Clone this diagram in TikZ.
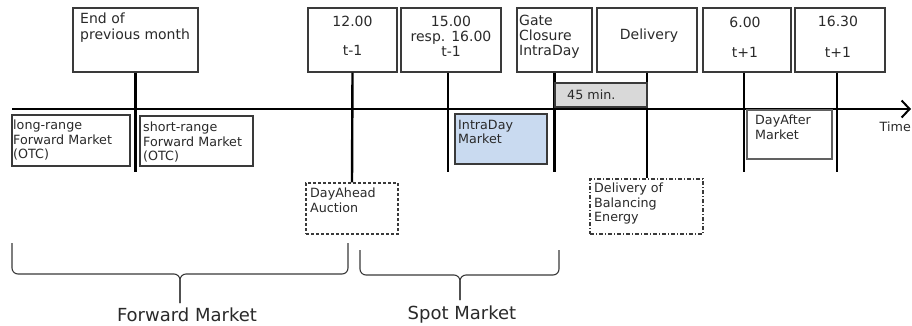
\documentclass[tikz,border=0pt]{standalone}
\usepackage{fontspec}
\setmainfont{DejaVu Sans}
\usetikzlibrary{arrows.meta}
\definecolor{textc}{HTML}{2A2A2A}
\definecolor{boxc}{HTML}{3A3A3A}
\definecolor{grayfill}{HTML}{D9D9D9}
\definecolor{bluefill}{HTML}{C9DAF0}
\tikzset{
  box/.style={draw=boxc, line width=1.1pt, rectangle, inner sep=0pt, fill=white},
  vline/.style={line width=2.4pt, black},
  timeline/.style={line width=2.6pt, black, -{Straight Barb[length=8pt,width=17pt,line width=2pt]}},
  toptxt/.style={font=\fontsize{14}{15.2}\selectfont, text=textc, inner sep=0pt},
  lowtxt/.style={font=\fontsize{12.7}{14.5}\selectfont, text=textc, inner sep=0pt, align=left},
  bigtxt/.style={font=\fontsize{18}{20}\selectfont, text=textc, inner sep=0pt},
  bracestyle/.style={draw=boxc, line width=1.1pt, rounded corners=6pt},
}
\begin{document}
\begin{tikzpicture}[x=1pt,y=-1pt]
\clip (0,0) rectangle (912,325);
\fill[white] (0,0) rectangle (912,325);

% timeline
\coordinate (tl0) at (12,109);
\coordinate (tl1) at (911,109);
\coordinate (bot) at (0,172);

% top boxes
\node[box, minimum width=125pt, minimum height=64pt] (endm) at (135.5,40) {};
\node[box, minimum width=89pt, minimum height=64pt] (b12) at (352.5,40) {};
\node[box, minimum width=100pt, minimum height=64pt] (b15) at (451,40) {};
\node[box, minimum width=75pt, minimum height=64pt] (gate) at (554.5,40) {};
\node[box, minimum width=100pt, minimum height=64pt] (deliv) at (647,40) {};
\node[box, minimum width=88pt, minimum height=64pt] (b6) at (747,40) {};
\node[box, minimum width=90pt, minimum height=64pt] (b16) at (840,40) {};

% lower boxes
\node[box, minimum width=92pt, minimum height=51pt, dash pattern=on 3pt off 2pt] (dayahead) at (352,208.5) {};
\node[box, minimum width=113pt, minimum height=55pt, dash pattern=on 4pt off 2pt on 1pt off 2pt] (balancing) at (646.5,206.5) {};

% vertical lines
\draw[vline] (endm.south) -- (endm.south |- bot);
\draw[vline] (b12.south) -- (dayahead.north);
\draw[vline] ([xshift=-3pt]b15.south) -- ([xshift=-3pt]b15.south |- bot);
\draw[vline] (gate.south) -- (gate.south |- bot);
\draw[vline] (deliv.south) -- (balancing.north -| deliv.south);
\draw[vline] ([xshift=-3pt]b6.south) -- ([xshift=-3pt]b6.south |- bot);
\draw[vline] ([xshift=-3pt]b16.south) -- ([xshift=-3pt]b16.south |- bot);

% 45 min box
\node[box, fill=grayfill, minimum width=92pt, minimum height=24pt] (min45) at (601,95) {};

\draw[timeline] (tl0) -- (tl1);

\node[box, minimum width=118pt, minimum height=51pt] (long) at (71,140.5) {};
\node[box, minimum width=113pt, minimum height=50pt] (short) at (196.5,141) {};
\node[box, fill=bluefill, minimum width=92pt, minimum height=50pt] (intra) at (501,139) {};
\node[box, draw=boxc!80, line width=1.5pt, minimum width=85pt, minimum height=49pt] (dayafter) at (789.5,134.5) {};

% top texts
\node[toptxt, align=left, anchor=north west] (tEndm) at (80,13) {End of\\previous month};
\node[toptxt, align=center, anchor=north] (t12) at (352.5,16) {12.00\\[14pt]t-1};
\node[toptxt, align=center, anchor=north] (t15) at (451,16) {15.00\\resp. 16.00\\t-1};
\node[toptxt, align=left, anchor=north west] (tGate) at (519,15) {Gate\\Closure\\IntraDay};
\node[toptxt, anchor=base] (tDeliv) at (649,39) {Delivery};
\node[toptxt, align=center, anchor=north] (t6) at (745,17) {6.00\\[15pt]t+1};
\node[toptxt, align=center, anchor=north] (t16) at (838,16) {16.30\\[16pt]t+1};

% lower texts
\node[lowtxt, anchor=west] (t45) at (567,95) {45 min.};
\node[lowtxt, anchor=north west] (tLong) at (13,120) {long-range\\Forward Market\\(OTC)};
\node[lowtxt, anchor=north west] (tShort) at (143,122) {short-range\\Forward Market\\(OTC)};
\node[lowtxt, anchor=north west] (tIntra) at (458,120) {IntraDay\\Market};
\node[lowtxt, anchor=north west] (tAfter) at (755,115) {DayAfter\\Market};
\node[lowtxt, anchor=north west] (tAhead) at (310,188) {DayAhead\\Auction};
\node[lowtxt, anchor=north west] (tBal) at (594,183) {Delivery of\\Balancing\\Energy};
\node[lowtxt, anchor=east] (tTime) at (911,127) {Time};

% braces
\coordinate (fL) at (12,243);
\coordinate (fR) at (348,243);
\coordinate (fM) at (180,274);
\coordinate (fT) at (180,303);
\draw[bracestyle] (fL) |- (fM) -- (fT);
\draw[bracestyle] (fR) |- (fM) -- (fT);
\coordinate (sL) at (360,250);
\coordinate (sR) at (559,250);
\coordinate (sM) at (460,275);
\coordinate (sT) at (460,300);
\draw[bracestyle] (sL) |- (sM) -- (sT);
\draw[bracestyle] (sR) |- (sM) -- (sT);

\node[bigtxt, anchor=base] (lForward) at (187,321) {Forward Market};
\node[bigtxt, anchor=base] (lSpot) at (462,319) {Spot Market};
\end{tikzpicture}
\end{document}
